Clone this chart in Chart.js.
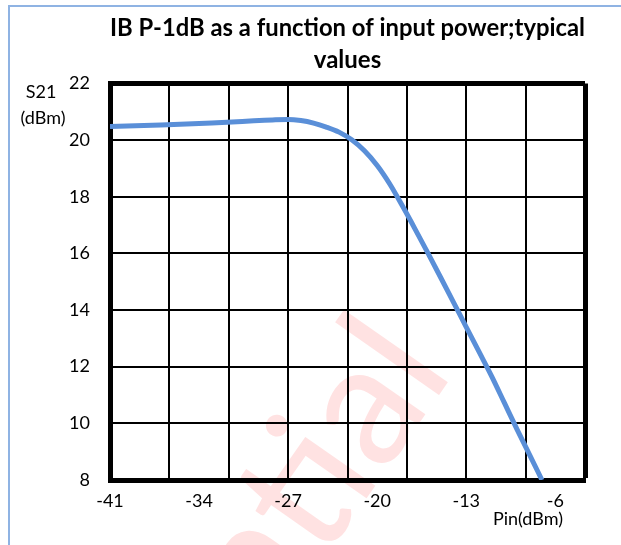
<!DOCTYPE html>
<html>
<head>
<meta charset="utf-8">
<script src="https://cdn.jsdelivr.net/npm/chart.js@4/dist/chart.umd.min.js"></script>
<style>
  html, body { margin: 0; padding: 0; background: #ffffff; }
  #wrap { position: relative; width: 621px; height: 545px; overflow: hidden; }
  #frame { position: absolute; left: 8px; top: 5px; width: 700px; height: 600px;
           border-left: 2px solid #8fb3e3; border-top: 2px solid #8fb3e3; }
  canvas { position: absolute; left: 0; top: 0; }
</style>
</head>
<body>
<div id="wrap">
  <div id="frame"></div>
  <canvas id="c" width="621" height="545"></canvas>
</div>
<script>
// ---- data ----
const pinValues = [-41, -37, -33, -30, -28, -27, -26, -25, -24, -23, -22, -21, -20, -19, -18, -17, -16, -15, -14, -13, -12, -11, -10, -9, -8, -7.05];
const s21Values = [20.48, 20.53, 20.60, 20.67, 20.72, 20.73, 20.69, 20.60, 20.46, 20.28, 20.01, 19.62, 19.10, 18.44, 17.66, 16.84, 16.00, 15.14, 14.27, 13.40, 12.53, 11.66, 10.72, 9.78, 8.87, 8.00];
const xTickLabels = [-41, -34, -27, -20, -13, -6];
const yTickValues = [8, 10, 12, 14, 16, 18, 20, 22];
const titleLines = ['IB P-1dB as a function of input power;typical', 'values'];
const yTitleLines = ['S21', '(dBm)'];
const xTitle = 'Pin(dBm)';
const watermark = 'Confidential';

// ---- derived configuration ----
const labelStep = xTickLabels[1] - xTickLabels[0];
const gridStep = labelStep * 2 / 3;          // vertical grid lines every 2/3 of a label step
const subStep = labelStep / 3;               // common sub-step of grid and labels
const xMin = xTickLabels[0];
const xMax = xMin + 8 * gridStep;
const nSub = Math.round((xMax - xMin) / subStep);

const points = pinValues.map((p, i) => ({ x: p, y: s21Values[i] }));

const FONT = 'Lato';

const decorPlugin = {
  id: 'decor',
  beforeDraw(chart) {
    const ctx = chart.ctx;
    ctx.save();
    ctx.font = '172px ' + FONT;
    ctx.fillStyle = '#ffe2e2';
    ctx.translate(455, 372);
    ctx.rotate(-55 * Math.PI / 180);
    ctx.textAlign = 'right';
    ctx.textBaseline = 'alphabetic';
    ctx.fillText(watermark, 0, 0);
    ctx.restore();
  },
  afterDraw(chart) {
    const ctx = chart.ctx;
    ctx.save();
    ctx.font = '18px ' + FONT;
    ctx.fillStyle = '#000';
    ctx.textAlign = 'center';
    ctx.textBaseline = 'middle';
    ctx.fillText(yTitleLines[0], 41, 92);
    ctx.fillText(yTitleLines[1], 43, 118);
    ctx.fillText(xTitle, 528, 519);
    ctx.restore();
  }
};

new Chart(document.getElementById('c'), {
  type: 'line',
  data: {
    datasets: [{
      data: points,
      borderColor: '#5a8fd8',
      borderWidth: 5,
      pointRadius: 0,
      fill: false,
      cubicInterpolationMode: 'monotone'
    }]
  },
  options: {
    responsive: false,
    animation: false,
    devicePixelRatio: 1,
    layout: { padding: { left: 0, right: 36, top: 0, bottom: 0 } },
    plugins: {
      legend: { display: false },
      tooltip: { enabled: false },
      title: {
        display: true,
        text: titleLines,
        color: '#000',
        fullSize: false,
        font: { family: FONT, size: 24, weight: 'bold', lineHeight: 1.3 },
        padding: { top: 13, bottom: 8 }
      }
    },
    scales: {
      x: {
        type: 'linear',
        min: xMin,
        max: xMax,
        afterBuildTicks(scale) {
          const t = [];
          for (let i = 0; i <= nSub; i++) t.push({ value: xMin + i * subStep });
          scale.ticks = t;
        },
        afterFit(scale) { scale.height = 65; },
        border: { display: true, color: '#000', width: 5 },
        grid: {
          drawTicks: false,
          color: (c) => (c.index % 2 === 0 ? '#000' : 'rgba(0,0,0,0)'),
          lineWidth: (c) => (c.index === nSub ? 5 : 2)
        },
        ticks: {
          autoSkip: false,
          maxRotation: 0,
          padding: 10,
          color: '#000',
          font: { family: FONT, size: 18 },
          callback: (v, i) => (i % 3 === 0 && xTickLabels[i / 3] !== undefined ? String(xTickLabels[i / 3]) : '')
        }
      },
      y: {
        type: 'linear',
        min: yTickValues[0],
        max: yTickValues[yTickValues.length - 1],
        afterBuildTicks(scale) { scale.ticks = yTickValues.map(v => ({ value: v })); },
        afterFit(scale) { scale.width = 110; },
        border: { display: true, color: '#000', width: 5 },
        grid: {
          drawTicks: false,
          color: '#000',
          lineWidth: (c) => (c.tick && c.tick.value === yTickValues[yTickValues.length - 1] ? 5 : 2)
        },
        ticks: {
          padding: 20,
          color: '#000',
          font: { family: FONT, size: 18 },
          callback: (v) => String(v)
        }
      }
    }
  },
  plugins: [decorPlugin]
});
</script>
</body>
</html>
